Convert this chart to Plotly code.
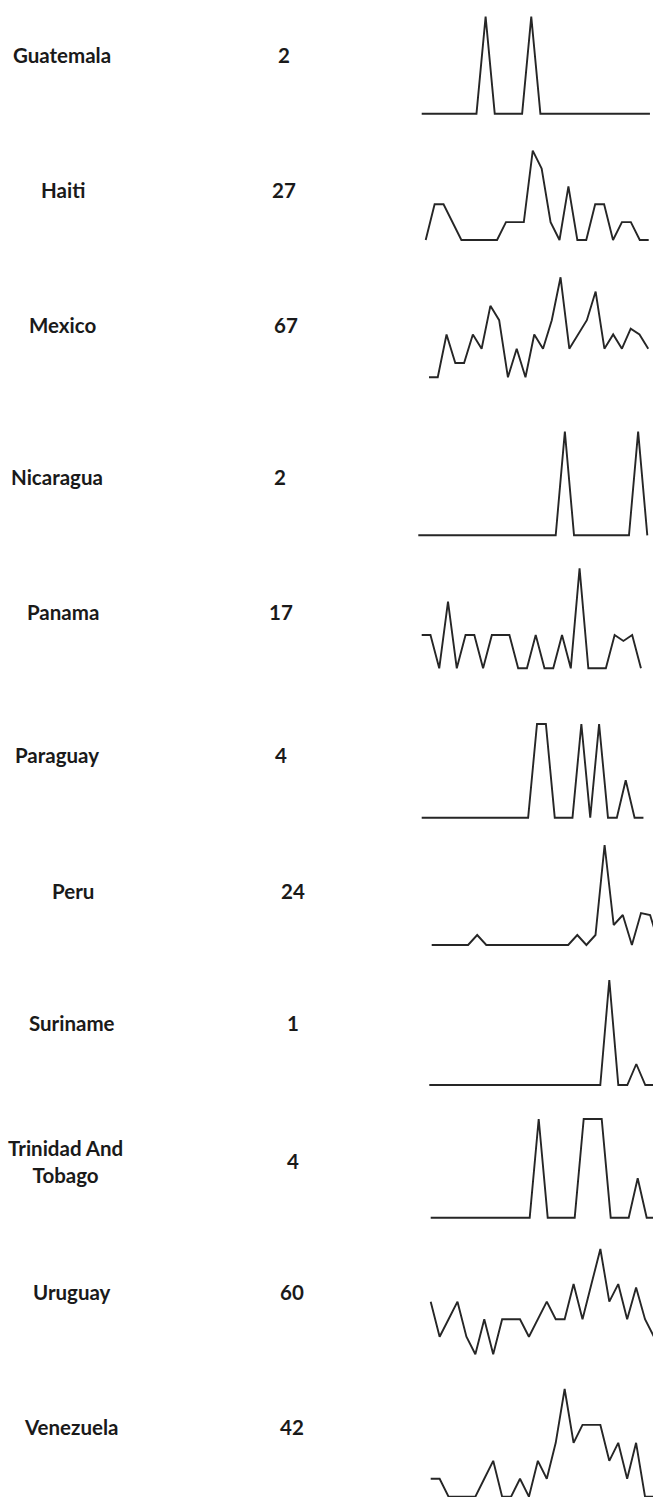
import plotly.graph_objects as go

W, H = 653, 1497

countries = ["Guatemala", "Haiti", "Mexico", "Nicaragua", "Panama", "Paraguay",
             "Peru", "Suriname", "Trinidad And<br>Tobago", "Uruguay", "Venezuela"]
totals = [2, 27, 67, 2, 17, 4, 24, 1, 4, 60, 42]

guatemala = [0,0,0,0,0,0,0,1,0,0,0,0,1,0,0,0,0,0,0,0,0,0,0,0,0,0]
haiti     = [0,2,2,1,0,0,0,0,0,1,1,1,5,4,1,0,3,0,0,2,2,0,1,1,0,0]
mexico    = [0,0,3,1,1,3,2,5,4,0,2,0,3,2,4,7,2,3,4,6,2,3,2,3.4,3,2]
nicaragua = [0,0,0,0,0,0,0,0,0,0,0,0,0,0,0,0,1,0,0,0,0,0,0,0,1,0]
panama    = [1,1,0,2,0,1,1,0,1,1,1,0,0,1,0,0,1,0,3,0,0,0,1,0.82,1,0]
paraguay  = [0,0,0,0,0,0,0,0,0,0,0,0,0,1,1,0,0,0,1,0,1,0,0,0.4,0,0]
peru      = [0,0,0,0,0,1,0,0,0,0,0,0,0,0,0,0,1,0,1,10,2,3,0,3.2,3,0]
suriname  = [0,0,0,0,0,0,0,0,0,0,0,0,0,0,0,0,0,0,0,0,1,0,0,0.2,0,0]
trinidad  = [0,0,0,0,0,0,0,0,0,0,0,0,1,0,0,0,0,1,1,1,0,0,0,0.4,0,0]
uruguay   = [3,1,2,3,1,0,2,0,2,2,2,1,2,3,2,2,4,2,4,6,3,4,2,3.8,2,1]
venezuela = [1,1,0,0,0,0,1,2,0,0,1,0,2,1,3,6,3,4,4,4,2,3,1,3,0,0]

series = [guatemala, haiti, mexico, nicaragua, panama, paraguay,
          peru, suriname, trinidad, uruguay, venezuela]

# layout (pixels): first point x, point spacing, baseline y, top y
spark_x0 = [421.7, 425.7, 429.0, 418.3, 421.7, 421.7, 431.7, 429.3, 430.7, 430.7, 430.7]
spark_dx = [9.13, 8.92, 8.77, 9.16, 8.77, 8.87, 9.10, 9.00, 9.00, 8.93, 8.93]
spark_yb = [113.7, 240.0, 377.3, 535.3, 668.3, 817.7, 945.0, 1085.0, 1217.7, 1354.3, 1496.7]
spark_yt = [16.7, 150.7, 277.3, 431.7, 568.3, 724.0, 845.0, 980.0, 1119.0, 1249.0, 1389.0]
name_x = [62, 63, 62, 57, 63, 57, 73, 72, 65, 72, 71]
num_x = [284, 284, 286, 280, 281, 281, 293, 293, 293, 292, 292]
row_y = [55, 190, 325, 477, 612, 755, 891, 1023, 1161, 1292, 1427]

fig = go.Figure()
layout = dict(width=W, height=H, margin=dict(l=0, r=0, t=0, b=0),
              paper_bgcolor="white", plot_bgcolor="rgba(0,0,0,0)",
              showlegend=False, annotations=[])

pad = 2.0
for i, vals in enumerate(series):
    n = i + 1
    sx = "" if n == 1 else str(n)
    xs = list(range(len(vals)))
    fig.add_trace(go.Scatter(x=xs, y=vals, mode="lines",
                             line=dict(color="#262626", width=1.9),
                             xaxis="x" + sx, yaxis="y" + sx, hoverinfo="skip"))
    x0, dx = spark_x0[i], spark_dx[i]
    xl = x0 - pad
    xr = min(x0 + (len(vals) - 1) * dx + pad, W)
    xaxis = dict(domain=[xl / W, xr / W], range=[(xl - x0) / dx, (xr - x0) / dx],
                 visible=False, fixedrange=True, anchor="y" + sx)
    ymax = max(vals)
    yb, yt = spark_yb[i], spark_yt[i]
    upp = ymax / (yb - yt)
    ybot = min(yb + pad, H)
    ytop = yt - pad
    yaxis = dict(domain=[1 - ybot / H, 1 - ytop / H],
                 range=[-(ybot - yb) * upp, ymax + (yt - ytop) * upp],
                 visible=False, fixedrange=True, anchor="x" + sx)
    layout["xaxis" + sx] = xaxis
    layout["yaxis" + sx] = yaxis

    layout["annotations"].append(dict(
        text="<b>" + countries[i] + "</b>", x=name_x[i] / W, y=1 - row_y[i] / H,
        xref="paper", yref="paper", xanchor="center", yanchor="middle",
        showarrow=False, font=dict(family="Lato", size=20.5, color="#1a1a1a")))
    layout["annotations"].append(dict(
        text="<b>" + str(totals[i]) + "</b>", x=num_x[i] / W, y=1 - row_y[i] / H,
        xref="paper", yref="paper", xanchor="center", yanchor="middle",
        showarrow=False, font=dict(family="Lato", size=20.5, color="#1a1a1a")))

fig.update_layout(**layout)
fig.write_html("out.html", config={"displayModeBar": False},
               post_script="document.body.style.margin='0';"
                           "document.body.style.overflow='hidden';")
